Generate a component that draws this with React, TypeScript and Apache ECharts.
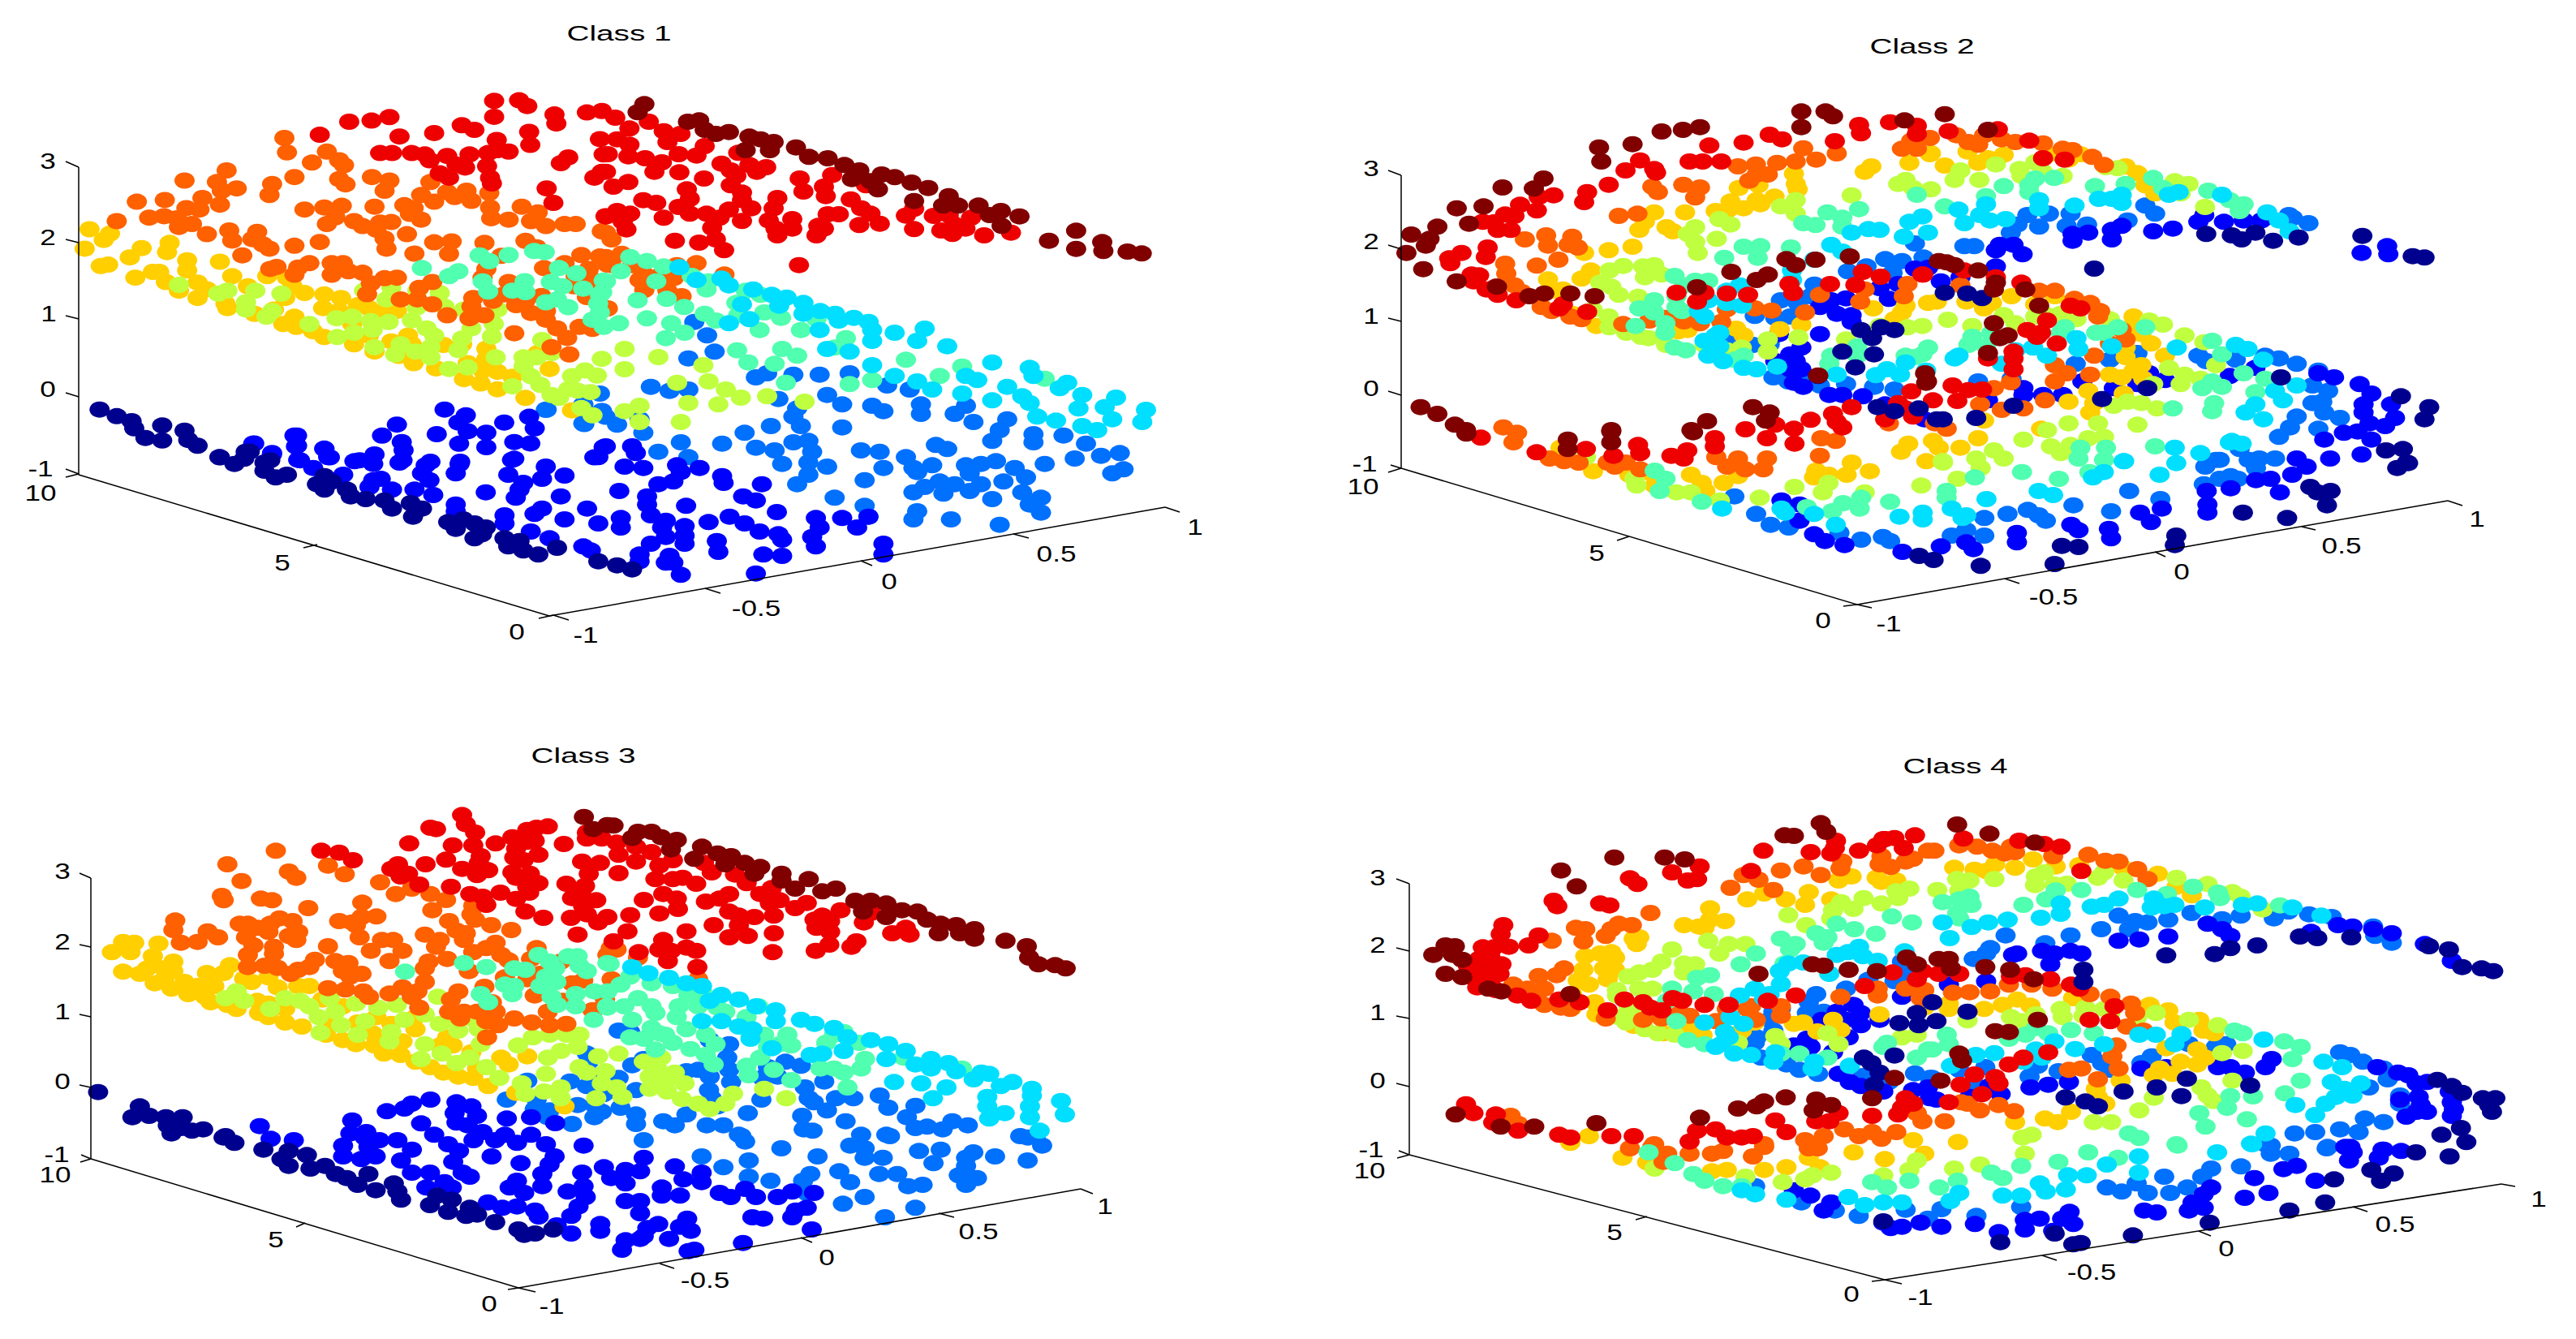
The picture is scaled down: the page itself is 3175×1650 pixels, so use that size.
import React, { useEffect, useRef } from "react";
import * as echarts from "echarts";

const W = 3175, H = 1650;
const colors: Record<string, string> = { navy: "#00008F", blue: "#0000FF", azure: "#0070FF", cyan: "#00DFFF", mint: "#50FFAF", lime: "#BFFF40", yellow: "#FFCF00", orange: "#FF6000", red: "#EF0000", maroon: "#800000" };
const order = ["azure", "blue", "yellow", "lime", "orange", "mint", "cyan", "red", "navy", "maroon"];
const regions = [
  { x: 30, y: 10, w: 720, h: 560, uw: 1568, uh: 1568 },
  { x: 740, y: 100, w: 720, h: 300, uw: 1568, uh: 900 },
  { x: 30, y: 400, w: 1450, h: 400, uw: 1568, uh: 1200 },
  { x: 1660, y: 30, w: 720, h: 500, uw: 1568, uh: 1500 },
  { x: 2300, y: 120, w: 760, h: 450, uw: 1568, uh: 1350 },
  { x: 1660, y: 450, w: 1400, h: 350, uw: 1568, uh: 1050 },
  { x: 30, y: 900, w: 720, h: 500, uw: 1568, uh: 1500 },
  { x: 650, y: 1000, w: 750, h: 400, uw: 1568, uh: 1200 },
  { x: 30, y: 1300, w: 1400, h: 340, uw: 1568, uh: 1020 },
  { x: 1660, y: 910, w: 720, h: 500, uw: 1568, uh: 1500 },
  { x: 2300, y: 1000, w: 800, h: 420, uw: 1568, uh: 1260 },
  { x: 1660, y: 1300, w: 1440, h: 340, uw: 1568, uh: 1020 },
];

const p1aRed = [1261,320,1328,318,1350,338,872,392,932,388,980,376,1423,367,1428,398,1510,360,1550,355,1261,375,1174,404,1208,420,1100,431,1007,443,793,437,1355,427,1268,455,1358,472,1545,452,1270,490,1300,495,1245,500,955,500,987,500,1040,500,1075,505,1088,525,1135,510,1195,505,1160,540,1183,550,1242,545,1115,570,1140,585,1250,585,1255,605,1460,515,1440,535,1555,505,1530,585,1550,565,1402,622,1420,672,1560,718];
const p1aOrange = [698,448,705,498,812,495,772,533,845,525,858,542,543,560,725,583,430,595,517,600,530,630,570,622,665,607,658,645,845,590,862,608,933,583,980,595,967,630,1090,600,1135,635,1187,630,1248,638,1155,652,1200,665,302,668,377,662,478,655,525,678,435,690,470,695,752,695,805,688,852,682,940,685,1065,645,1100,668,1020,680,1045,690,1250,688,1335,685,1378,705,335,723,375,718,410,725,450,745,415,755,248,735,835,722,812,745,885,735,908,752,955,740,985,738,945,765,1035,710,1065,730,1253,725,1300,730,1360,735,1400,752,1450,745,1480,745,1550,770,490,780,550,767,625,772,612,797,558,802,640,815,658,830,725,820,793,807,967,795,1027,780,972,830,1100,808,1147,805,1235,810,1345,803,1375,825,1047,847,1140,848,585,853,1280,855,1495,852,1545,857,677,893,660,900,765,880,735,895,725,920,825,880,855,880,825,920,870,908,908,913,1240,900,1395,897,1450,880,1515,900,1565,885,1230,930,1480,925,930,950,967,932,1000,930,1095,945,1060,965,1300,945,1475,960,1530,940,1510,997,920,987,1010,1005,1055,1005,1095,1022,1205,1000,1258,1010,1288,988,1345,1010,1388,993,1320,1025,1558,1035,1200,1030,1360,1052,1400,1045,1135,1060,1235,1060,1195,1070,1400,1075,1430,1105,1490,1100,1525,1107,1315,1122,1457,1138,1463,1195,1415,1170];
const p1aMint = [1222,853,1248,873,1300,852,1368,838,1397,842,1067,897,1165,908,1140,925,1435,897,1482,915,1230,943,1343,942,1413,945,1555,940,1245,978,1310,975,1345,980,1445,960,1500,968,1430,1005,1400,1015,1460,1032,1540,1020,1545,990,1545,1050,1525,1075,1555,1100];
const p1aLime = [415,955,520,985,545,975,620,975,595,1015,595,1040,690,985,665,1045,650,1065,912,975,985,965,1055,975,1115,983,972,1005,1128,1030,1180,1040,1053,1033,1270,1040,840,1135,838,1070,880,1065,930,1080,978,1083,1040,1077,765,1090,935,1110,885,1120,1080,1105,1100,1130,1200,1105,1260,1090,1255,1133,940,1170,995,1195,1010,1160,1090,1170,1090,1205,1050,1185,1165,1180,1175,1140,1190,1240,1140,1245,1265,1205,1390,1145,1415,1190,1340,1205,1375,1205,1340,1235,1360,1270,1385,1300,1310,1305,1415,1335,1435,1345,1460,1315,1485,1320,1520,1325,1470,1270,1505,1250,1537,1268,1550,1210,1495,1380,1525,1405];
const p1aYellow = [175,763,230,778,213,800,162,830,315,828,390,810,383,842,283,860,205,890,225,885,437,870,437,905,525,875,298,930,345,910,362,910,380,945,558,925,652,925,705,930,720,960,465,947,415,975,490,970,465,1000,600,960,752,983,540,1020,545,1035,618,1055,805,988,850,1000,802,1035,845,1045,895,1025,925,1035,1000,1045,960,1048,670,1040,700,1000,695,1090,725,1065,730,1100,775,1115,805,1135,880,1090,925,1130,885,1160,940,1185,1030,1130,985,1150,1005,1200,1040,1160,1045,1225,1105,1243,1125,1162,1175,1160,1190,1225,1240,1175,1240,1210,1230,1250,1270,1255,1180,1280,1225,1295,1270,1315,1310,1272,1345,1345,1410,1245,1378,1190,1470,1388];
const p1aAzure = [1402,1385,1500,1370,1545,1330,1550,1390,1503,1435,1560,1410];
const p1aBlue = [1128,1385,1185,1405,1165,1430,1190,1460,1288,1430,1355,1410,1370,1450,1240,1465,1000,1437,960,1475,1107,1470,1013,1497,1018,1525,732,1475,732,1510,617,1502,665,1535,805,1520,820,1550,1167,1503,1240,1515,1315,1497,1358,1502,940,1540,1555,1515,1530,1550,740,1560,1090,1565,1170,1565,1315,1555,900,1560,1015,1560];
const p1aNavy = [202,1385,248,1408,288,1425,295,1450,370,1440,430,1458,325,1483,370,1492,440,1490,465,1510,525,1550,605,1530,590,1555,660,1560];
const p1bMaroon = [118,85,100,115,235,150,265,145,280,180,310,195,345,188,400,205,430,215,465,225,390,255,455,255,525,245,560,280,610,285,655,310,695,330,675,362,755,345,790,355,725,370,745,400,835,375,880,395,935,425,920,460,960,460,1015,460,1045,495,1075,480,1125,500,842,443,1077,535,1277,553,1204,590,1277,620,1347,595,1350,628,1415,630,1453,637];
const p1bRed = [40,135,130,150,170,185,215,195,78,175,180,225,45,215,78,235,20,270,75,278,120,285,165,300,210,270,258,275,280,240,145,335,212,337,278,360,325,305,370,265,400,310,445,318,420,335,350,330,365,350,350,385,380,412,380,440,405,470,345,475,232,400,240,435,210,465,115,440,150,450,80,490,45,480,60,520,70,548,15,500,35,390,75,373,15,335,170,505,240,490,285,490,320,505,380,517,300,542,452,515,470,545,475,570,515,510,515,545,475,432,465,470,535,360,545,408,622,347,600,390,605,425,672,437,700,470,725,490,640,492,610,492,585,535,600,545,580,570,695,532,750,527,713,385,842,472,820,497,895,498,935,495,995,505,950,530,915,552,842,547,945,565,980,545,1030,570,1102,560,200,590,265,597,310,585,332,625,533,680];
const p1bOrange = [15,560,30,585,57,638,30,680,85,680,115,710,105,735,160,718,197,728,258,673,333,715,118,772,180,775,218,795,205,680,15,650,20,840];
const p1bMint = [80,650,125,665,170,685,55,703,15,740,150,740,100,810,178,805,225,835,5,780,280,860,125,877,190,895,50,895,310,885,245,720,285,770,390,775,430,790,365,820,370,865,440,855,485,875,290,740,580,880];
const p1bAzure = [252,890];
const p1bCyan = [212,688,258,735,325,730,345,755,380,825,410,770,460,790,500,800,480,830,545,820,590,850,630,860,680,875,720,890,545,860,400,880,345,895,640,885];
const p1cCyan = [1060,20,1130,20,1070,90,1130,60,1190,60,1230,80,1290,140,1130,150,1160,190,1190,210,1210,240,1250,255,1290,280,1255,190,1310,230,1345,190,1390,215,1410,260,1340,290,1350,340,1375,355,1405,310,1455,270,1495,315,1440,305,1450,350,1410,375,1430,390,1490,360,1200,15,1160,30,1340,160,1270,205,1380,235,1330,265,1100,100];
const p1cMint = [950,95,980,20,1010,90,1030,115,1095,50,1175,130,1220,190,1250,155,1130,205,1100,220,1015,215,855,50,965,140,1000,145,1360,200,880,30,1035,20,1080,85];
const p1cAzure = [910,40,885,125,920,100,835,230,860,245,885,240,1100,180,1060,185,1025,185,990,180,1150,225,1180,240,1030,310,1070,260,1090,295,1130,300,1145,320,1195,295,1195,330,1255,300,1240,330,1265,360,1310,350,1090,380,1035,375,1025,340,995,375,960,400,875,435,930,440,845,470,885,490,820,350,745,365,770,320,790,370,825,400,695,315,745,295,975,455,1025,435,1045,430,1000,465,1050,470,1115,465,1140,470,1010,515,1045,510,1070,525,1045,555,1030,590,1120,575,1145,530,1175,490,1185,530,1215,445,1230,460,1210,520,1190,545,1255,520,1275,515,1260,550,1295,505,1320,530,1360,515,1335,565,1305,580,1220,580,1240,590,1200,600,1185,620,1225,625,1275,590,1260,615,1290,645,1330,620,1355,640,1340,665,1355,695,1190,690,1185,720,1235,720,1300,740,1080,640,1120,670,1125,710,1300,390,1345,405,1290,430,1385,410,1415,440,1345,435,1400,495,1435,485,1460,475,1465,535,1450,550,975,195,1005,275];
const p1cLime = [870,215,912,210,935,240,955,270,990,265,925,295,885,290,820,300,800,320,875,360,820,360,1040,285,845,120,800,90,905,150,800,165];
const p1cBlue = [775,450,765,490,810,450,815,475,800,525,825,530,870,520,875,545,900,530,930,560,932,585,845,590,865,580,983,590,793,615,830,635,830,665,882,670,958,635,975,650,1003,693,940,710,960,735,980,765,1005,775,1010,795,1055,715,1060,750,1090,715,1110,750,1125,710,1050,785,1055,820,1145,810,1145,850,985,850,1010,855,923,800,925,840,880,745,855,725,850,750,835,705,912,730,795,715,795,750,765,735,835,810,855,785,880,780,880,810,860,855,865,880,855,880,820,850,820,875,875,925,975,920,745,820,755,835,720,720,715,635,750,680,690,680,680,700,640,705,640,735,675,765,700,790,655,640,660,610,690,570,720,558,645,555,665,585,615,620,575,665,575,690,545,630,520,610,530,550,540,575,575,550,465,575,475,570,460,600,490,610,580,515,535,520,500,510,465,515,400,460,405,490,440,505,365,500,385,530,425,555,650,500,695,525,305,440,330,480,360,410,362,450];
const p1cNavy = [260,490,295,470,280,515,320,510,320,540,350,555,335,565,400,560,410,580,390,590,430,610,400,610,435,635,455,645,480,650,490,680,515,660,530,680,518,710,565,730,585,720,600,735,575,755,610,775,600,790,640,790,660,800,645,820,665,835,685,850,710,825,765,875,790,890,810,905,615,750];

const p2aMaroon = [1220,322,1285,322,1305,340,1220,380,845,396,902,390,948,380,677,455,767,443,683,507,528,570,418,603,502,607,295,680,367,673,243,748,328,737,173,777,222,793,212,818,160,845,205,905,295,950,403,970,530,995,490,1005,600,995,665,1005,1180,868,1205,890,1258,870,1350,858,1032,915,1130,925,1100,945,940,972,1497,355,1265,1298,1090,1415,1135,1435,1125,1465,198,1415,243,1440,290,1480,967,1467,1555,1325,710,1500,925,1500,320,1500];
const p2aRed = [1375,372,1380,403,1458,362,1530,375,1530,405,1135,408,1168,425,973,448,1065,437,1310,432,787,503,748,540,825,535,830,548,920,507,955,507,1005,507,703,593,645,620,637,657,515,638,555,632,465,667,510,688,425,703,450,708,365,730,395,732,405,760,440,760,308,845,275,865,278,883,378,825,373,860,335,925,355,928,340,950,400,970,375,980,405,1000,455,1020,1188,960,1198,993,1297,960,1365,963,1433,933,1385,915,1545,925,960,992,940,1025,885,992,1020,995,1077,1000,580,1035,570,1050,645,1063,1515,1357,1355,1415,1305,1440,1315,1470,1245,1462,1445,1460,1480,1400,1500,1420,1520,1450,1150,1480,1200,1495,1070,1497,1330,1490];
const p2aOrange = [1050,525,1098,518,1155,512,1205,507,1225,458,1260,500,1315,477,1490,460,1530,460,1565,420,1515,430,1130,555,1100,555,1080,578,820,600,835,620,903,593,948,603,935,640,730,708,780,700,478,795,535,780,540,818,605,785,595,815,620,825,568,870,510,892,425,885,428,922,450,965,470,990,523,1045,550,1060,600,1080,630,1090,1390,980,1378,1025,1270,1000,1230,1065,1505,960,1495,1005,1095,1050,1140,1058,1020,1053,1005,1100,905,1098,948,1105,855,1085,812,1095,742,1108,1455,1475,420,1490];
const p2aYellow = [1408,525,1390,545,1510,512,1565,480,1105,595,1052,605,1200,552,1205,590,1210,610,1100,650,1110,665,1148,637,1030,655,1065,680,990,690,1025,685,825,695,908,695,800,730,785,760,858,750,875,765,703,835,767,822,637,845,655,910,630,940,540,943,580,980,550,985,1413,1050,1500,1040,1490,1065,1470,1090,1560,1030,1220,1110,1162,1127,1045,1125,1065,1150,605,1070,670,1115,855,1140,890,1135,915,1130];
const p2aLime = [1205,650,1205,700,1165,673,1355,632,1480,590,1500,575,1520,605,1030,740,1000,720,935,750,915,775,935,805,942,845,993,793,742,893,705,910,680,955,710,970,730,1000,825,890,795,895,845,925,800,935,782,1007,703,1080,705,1120,660,1055,750,1140,790,1155,810,1160,857,1185,960,1185,980,1190,1020,1205,1060,1195,1130,1165,1130,1210,1212,1157,1340,1165,1367,1195,1505,1120,1545,1115,1430,1115];
const p2aMint = [1225,735,1258,742,1290,695,1330,715,1330,748,1375,683,1530,630,1065,822,1110,820,1192,825,1103,863,1013,863,880,930,905,965,935,948,970,948,825,1020,885,1005,785,1050,825,1065,885,1045,900,1060,855,1105,855,1140,775,1115,910,1205,880,1195,1065,1225,1040,1240,1370,1190,1370,1225,1300,1225,1295,1255,1500,1225,1545,1220,1560,1195,1525,1230];
const p2aCyan = [1510,730,1545,710,1560,770,1400,757,1430,760,1355,770,1495,785,1300,815,1330,840,1195,910,1195,945,1255,870,1055,965,1020,985,1020,1030,970,1020,1060,1040,945,1060,960,1080,960,1170,990,1150,1000,1140,1010,1245,970,1225,1065,1270,1100,1275,1155,1265,1315,1295,1420,1297,1450,1275,1485,1295,1555,1280,1500,1250,1000,1190];
const p2aAzure = [1525,810,1345,913,1395,895,1445,868,1490,875,1548,862,1465,918,1255,962,1245,1005,1165,1020,1210,1030,1095,1078,1150,1085,1190,1080,1040,1155,1090,1185,1135,1183,1145,1305,1185,1320,1270,1335,1240,1320,1340,1330,1415,1340,1470,1350];
const p2aBlue = [1525,903,1430,975,1455,1015,1480,960,1560,900,1340,1013,1300,1020,1270,1045,1315,1070,1355,1075,1355,1100,1270,1145,1160,1145,1220,1195,1190,1220,1205,1245,1150,1245,1190,1275,1220,1275,1200,1325,1225,1340,1295,1370,1330,1370,1385,1375,1445,1405,1550,1460];
const p2aNavy = [1380,1130,1410,1160,1435,1120,1470,1130,1415,1220,1330,1210,1365,1268,1265,1300,1425,1415,1470,1430,1535,1420];
const p2bMaroon = [200,62,310,120,205,610,185,605,225,620,285,640,330,685,325,710,405,710,440,770,325,835,360,880,340,890,310,945,155,1050,150,1020];
const p2bRed = [210,125,335,118,415,160,450,225,505,230,250,640,145,655,330,665,395,685,520,770,545,780,460,825,410,860,445,870,435,885,485,910,375,940,375,965,310,965,375,1005,220,1065,260,1082,295,1080,232,1122,170,1120];
const p2bOrange = [230,140,260,165,300,140,285,175,345,155,380,165,450,170,500,190,525,195,575,220,605,250,440,715,480,715,530,745,570,760,595,790,590,810,650,860,660,895,620,910,580,955,480,990,510,1020,480,1050,570,1025,368,1053,325,1075,290,1135,345,1155,400,1150,205,1225,175,1205,455,1120,240,695];
const p2bYellow = [165,207,258,200,350,212,310,225,285,242,200,252,465,210,515,230,545,210,660,255,690,280,710,325,735,355,180,755,255,755,370,735,320,760,300,780,480,735,430,765,680,810,680,840,700,875,660,925,660,960,725,910,760,955,700,990,680,1010,620,1025,650,1035,705,1040,655,1095,565,1085,515,1125,580,1130,570,1165,445,1225,285,1260,170,1270,185,1295,240,1295,300,1195];
const p2bLime = [330,248,225,305,240,270,288,305,165,340,390,265,395,290,430,240,450,275,500,290,610,258,640,262,800,355,785,310,820,320,862,405,208,822,350,805,380,835,270,845,430,810,460,805,495,800,535,820,620,820,720,825,755,840,810,880,860,905,890,990,770,1000,800,1060,810,1025,850,1040,730,1060,630,1140,665,1125,700,1130,740,1150,590,1205,515,1205,690,1210,460,1230,565,1260,605,1255,470,1290,495,1315,520,1285,400,1265,325,1305,280,1335,350,1335,195,1345];
const p2bMint = [415,350,430,300,415,325,350,328,478,298,305,365,582,328,660,320,730,298,755,335,870,345,925,380,960,395,950,420,200,403,505,850,585,870,605,870,495,870,270,885,260,915,318,872,305,920,880,900,905,950,880,1050,905,1070,855,1075,1015,1040,960,1020,990,1090,885,1130,880,1160,780,1150,735,1290,610,1295,545,1295,540,1335,605,1340,640,850,710,850];
const p2bCyan = [235,415,305,395,290,435,355,450,315,455,250,465,440,380,440,410,530,400,592,375,650,360,625,375,650,390,770,360,795,350,905,360,1020,425,1050,455,1077,495,380,935,425,925,460,955,535,890,540,930,625,920,235,955,225,965,345,985,790,925,1040,1085,1060,1120,990,1135,965,1165,1010,1190,930,1270,955,1280,785,1295,850,1315,655,1345,925,1275,1095,1065,940,915,970,930,1010,970];
const p2bAzure = [710,400,735,430,665,455,410,435,465,430,385,470,368,500,440,478,520,430,510,475,562,470,275,550,250,550,1085,445,1125,465,1075,435,285,1050,533,985,620,970,690,945,845,955,865,975,940,970,1015,955,1050,965,1095,985,1150,1010,1135,1065,1175,1085,1160,1125,1135,1130,1165,1165,1205,1185,1095,1180,1078,1220,1150,1225,1050,1255,950,1300,890,1340,1000,1335,1040,1335,370,1040];
const p2bBlue = [960,455,1005,455,860,435,845,460,910,460,780,485,730,495,650,475,625,490,625,525,565,500,525,505,525,530,340,545,375,545,330,565,398,580,1325,550,1328,580,1260,575,330,625,190,680,240,665,550,1050,400,1075,400,1100,450,1100,500,1100,310,1120,720,1020,760,1045,990,1000,925,1030,1150,1020,1190,1035,1255,1060,1285,1095,1265,1135,1265,1165,1335,1135,1345,1185,1280,1205,1320,1215,1250,1235,1215,1240,1285,1265,1165,1265,1260,1320,1095,1335,1180,1335,630,1075,690,1060];
const p2bNavy = [580,633,865,505,930,510,955,525,990,500,1035,530,1100,518,1262,512,1390,587,1420,592,200,722,257,725,295,742,375,1140,600,1115,715,1075,1055,1035,1360,1105,1432,1145,1420,1190,1322,1305,1365,1300,1375,1350,280,1185,180,1190,195,1190];
const p2cMaroon = [165,253,365,245,365,285,305,275,305,310,478,248];
const p2cRed = [185,268,262,322,330,310,368,335,402,295,405,325,470,315,465,345,448,335,618,290,580,270,508,270,508,300];
const p2cOrange = [230,285,280,345,300,355,360,360,385,360,370,375,405,385,510,340,540,345,525,375,550,385,580,345,575,385,655,270,675,280,653,335,235,250,320,360];
const p2cYellow = [295,305,320,360,340,392,775,290,765,320,697,360,722,392,690,405,665,405,648,390,645,415,540,410,475,405,490,435,520,435,390,405,420,400,425,445,495,465,800,355];
const p2cLime = [330,340,397,420,400,445,455,470,475,470,515,500,570,490,618,450,657,470,665,435,715,470,793,445,843,420,875,380,823,360];
const p2cMint = [425,390,440,420,432,465,490,505,635,525,670,540,685,510,710,490,708,530,750,505,828,465,828,490,867,415,932,395,983,420,1025,395];
const p2cCyan = [518,530,605,545,645,550,675,590,763,560,795,545,795,570,835,530,855,555,850,565,883,495,955,465,975,480,1073,355,1045,395,1030,415,1122,405,1145,362,600,530];
const p2cAzure = [535,485,565,550,585,590,610,600,680,620,710,645,740,635,750,650,835,630,855,610,880,565,880,630,912,550,940,535,955,555,965,575,1003,518,1055,540,1123,495,1080,465,1183,440,1205,420,1185,375,1205,350,1245,350,1255,380,1220,410,1230,420];
const p2cBlue = [600,500,625,515,625,575,645,625,660,650,687,665,767,690,820,670,855,655,865,680,925,620,925,655,1000,590,1010,610,1052,605,1055,640,1095,545,1125,530,1110,580,1188,515,1188,545,1187,465,1220,455,1255,425,1275,420,1288,470,1305,405,1325,375];
const p2cNavy = [790,705,810,720,875,742,977,735,987,668,1010,672,1145,630,1143,665,1237,545,1298,565,1330,450,1340,470,1358,465,1353,518,1465,362,1450,380];

const p3aMaroon = [1502,320,1527,365,1565,350];
const p3aRed = [1175,313,1185,347,1090,360,1105,365,1210,378,1205,425,1405,355,1375,360,1350,368,1310,395,1370,408,1350,412,1448,420,1265,418,1150,425,1033,418,1510,378,1550,400,1510,400,797,445,845,452,882,480,1225,465,1220,490,1132,478,1077,495,1003,495,985,512,1030,530,1010,540,1175,512,1245,517,1215,535,1320,437,1380,460,1315,470,1340,480,1310,525,1357,530,1320,545,1497,485,1545,490,1515,530,1060,570,1145,578,1380,565,1350,580,1355,600,1455,567,1505,575,1495,605,1470,620,1535,628,1500,650,1510,680,1197,605,1230,615,1240,645,1278,600,1320,623,1345,670,1393,693,1467,693,1540,710,1485,755,1565,690];
const p3aOrange = [675,445,545,495,815,500,860,532,710,522,730,545,955,562,583,557,1040,585,997,605,1090,605,1132,627,530,612,535,628,635,622,665,628,907,637,762,657,1095,665,1205,648,1200,680,1210,700,1253,720,1307,738,405,703,400,738,492,743,520,765,420,785,465,782,578,715,600,715,625,730,685,695,720,705,660,715,655,745,735,745,710,760,730,775,845,705,880,710,890,720,905,690,945,688,595,765,615,795,670,800,900,765,815,798,960,775,990,775,1140,705,1160,740,1185,750,1180,775,1075,755,1115,775,1105,800,1015,815,930,815,1265,785,1240,805,1205,820,1280,830,600,830,670,825,1300,850,1375,805,1360,845,1440,855,1565,830,980,853,1135,845,1085,855,1075,880,600,875,645,870,680,878,735,885,765,875,780,848,835,853,870,860,855,890,875,910,905,900,715,900,1193,890,1385,900,1075,930,1290,913,1350,920,1235,948,1470,935,1500,925,815,953,862,958,910,965,925,985,980,973,1015,950,1055,965,1040,985,1165,965,1145,995,1370,980,1445,1000,1060,1025,1255,1005,1140,1040,1180,1040,1215,1040,1265,1040,1405,1040,1525,1035,1315,1065,1362,1080,1410,1090,1455,1085,1240,1075,1272,1090,1242,1135,1170,1065];
const p3aMint = [1180,860,1240,875,1022,892,1315,880,1345,885,1380,830,1410,855,1460,835,1485,835,1490,870,1425,880,1510,890,1565,860,1400,910,1428,930,1290,940,1315,945,1385,945,1225,975,1310,975,1415,985,1480,975,1530,965,1565,965,1430,1015,1480,1020,1245,1005,1565,1025,1528,1070];
const p3aLime = [540,990,590,1000,570,965,700,990,740,1000,820,990,890,1010,765,1020,950,1025,1000,1015,835,1040,660,1030,790,1060,1075,1050,1020,1070,850,1090,915,1075,1110,985,1115,1085,1145,1070,1205,1068,1220,1105,1165,1110,795,1118,895,1125,985,1115,980,1150,1075,1160,1120,1195,1065,1215,1160,1230,1195,1210,1240,1245,1225,1160,1325,1165,1365,1135,1410,1125,1455,1125,1490,1125,1485,1170,1440,1185,1405,1210,1540,1205,1490,1245,1400,1270,1275,1285,1335,1305,1345,1345,1395,1335,1440,1320,1440,1360,1535,1360,1550,1305,1510,1265,1560,1260];
const p3aYellow = [265,782,295,785,235,820,360,788,285,820,345,835,400,855,265,892,310,900,330,880,375,880,400,890,350,935,395,955,375,920,490,897,535,897,552,868,590,918,610,930,655,913,430,930,465,945,510,945,440,975,485,985,570,965,500,1005,570,1030,545,1015,625,1000,655,1010,680,950,735,945,765,945,630,1045,655,1060,700,1030,700,1080,745,1095,800,995,855,1020,825,1075,810,1125,895,1080,945,1060,985,1085,1050,1060,1050,1105,855,1145,890,1160,935,1120,940,1165,965,1195,1010,1200,1015,1150,1050,1225,1090,1245,1125,1265,1115,1165,1150,1165,1135,1135,1200,1190,1215,1250,1165,1280,1205,1285,1245,1315,1280,1210,1300,1235,1320,1340,1350,1205,1450,1390];
const p3aAzure = [1510,1195,1515,1225,1295,1365,1350,1295,1375,1365,1370,1400,1410,1405,1465,1298,1510,1315,1545,1277,1485,1385,1530,1385,1550,1410,1530,1430,1470,1455,1405,1430,1555,1345];
const p3aBlue = [1090,1365,1040,1380,1020,1398,973,1408,880,1442,1160,1375,1200,1390,1155,1415,1215,1425,1160,1450,1190,1460,1065,1453,1295,1435,1360,1430,1425,1452,632,1463,875,1490,918,1485,1230,1485,1290,1495,1360,1495,1100,1495];
const p3aNavy = [198,1337,310,1390,290,1430,335,1425,380,1430,425,1430,385,1460,420,1470,480,1475,450,1480,540,1500,395,1490];
const p3bMaroon = [222,52,285,75,320,75,270,98,345,95,385,105,370,140,450,130,430,175,490,155,525,165,560,190,510,195,600,205,585,230,655,230,655,255,725,250,690,285,760,295,795,285,845,330,885,330,925,340,865,370,925,390,965,365,1005,370,1030,400,1065,415,1105,420,1060,450,1115,450,1152,435,1152,470,1232,478,1287,498,1293,540,1317,565,1360,568,1387,580];
const p3bRed = [230,115,280,130,320,150,235,160,280,185,235,228,340,200,375,180,330,250,375,250,400,245,435,267,455,190,475,225,535,233,565,265,630,283,600,305,650,328,625,340,520,305,495,322,460,333,350,305,385,322,300,327,340,377,388,360,265,383,690,357,720,338,807,365,885,375,867,410,520,370,545,385,585,390,635,385,545,420,760,385,740,400,780,405,745,430,780,445,940,450,975,430,985,455,480,420,410,443,258,443,520,465,568,460,635,450,350,475,340,510,370,515,410,503,435,515,287,520,362,553,438,575,632,520,743,515,778,492,848,480,835,500,222,480];
const p3bOrange = [215,505,230,510,285,540,217,620,440,620,200,695,170,735];
const p3bMint = [212,563,265,610,240,640,205,720,250,720,285,690,320,720,270,770,330,745,390,720,385,760,320,800,340,820,410,805,265,835,300,840,355,825,375,855,420,878,330,880,460,825,485,860,320,635,375,645,415,680,450,665,440,720,490,725,510,740,565,760,595,720,575,830,610,825,670,825,650,860,620,870,680,865,770,855,855,855,790,825,815,815,460,900,480,935,600,910,565,940,570,975,635,955,680,993,755,950,790,950,815,965,860,950,870,915,825,1020,970,910,1120,950];
const p3bLime = [345,910,300,925,235,895,335,950,315,980,315,1025,355,1000,360,1035,405,1005,380,965,230,1020,245,1055,398,1063,440,1080,470,1100,530,1043,610,1025,667,1060,510,1080];
const p3bCyan = [270,575,312,598,365,615,410,635,450,645,500,678,470,700,545,695,590,720,640,735,450,775,500,775,545,795,580,805,640,775,705,770,740,785,790,800,825,835,885,845,930,860,975,885,925,915,1000,935,1040,915,1085,930,1040,950,1105,960,1170,965,1190,970,1150,990,1250,1000,1220,1015,1300,1025,1300,1050,760,895,730,900,815,885,945,1000,1015,1005,1080,1020,1045,1060,1185,1055,1185,1090,1230,1115,1190,1135,1295,1090,1295,1130,1375,1070,1385,1120,1320,1180,630,875,575,840];
const p3bAzure = [235,810,265,815,520,860,470,845,515,910,300,915,270,938,440,955,410,960,470,980,520,955,525,1000,468,1030,475,1060,490,1090,605,985,620,945,645,980,665,925,705,940,765,998,715,1020,725,1060,738,1075,795,1060,840,1060,908,1050,772,1105,930,1095,1000,1088,568,1115,603,1065,410,1120,280,1030,280,1120,280,1155,235,985,240,1095,350,1145,380,1160,462,1160,505,1160,708,1125,820,1145,712,1175,735,1180,978,1130,1000,1170,1030,1165,1070,1175,1095,1145,1135,1160,545,1195,860,1195,925,1195,1270,1200,1310,1200];
const p3cAzure = [855,315,990,300,995,320,1045,345,935,375,1000,390,965,415,1095,375,1140,335,1160,345,1160,380,1185,380,1195,300,1235,355,1265,350,1310,360,1340,375,1300,380,1255,400,1300,410,1385,390,1405,335,1385,305,1000,450,1030,465,1085,440,1125,430,1140,470,1180,440,1205,440,1220,485,1240,480,1290,445,1315,455,1300,480,1080,510,1130,550,1160,525,1230,565,1188,600,1075,465];
const p3cBlue = [340,310,372,315,515,315,490,315,470,305,440,335,475,340,535,350,585,330,600,355,620,315,650,315,680,325,720,330,772,335,645,375,685,400,732,375,725,405,592,395,520,390,485,375,465,385,440,375,855,380,800,415,830,425,850,430,898,412,935,435,910,460,935,470,830,475,810,455,770,435,715,440,680,465,670,490,715,485,690,510,605,435,580,470,615,450,560,435,535,435,555,490,590,490,772,485,750,505,775,525,880,490,880,520,905,520,995,495,960,510,975,525,1010,525,1040,525,1060,505,1090,510,830,540,850,540,850,585,765,560,755,595,735,630,640,545,660,565,680,560,705,575,710,597,1005,600,1020,605,1065,575,1080,565,1060,600,1087,645,915,605,905,635,920,650,875,625,860,640,855,670,890,680,830,685,850,680,825,720,795,625,795,650,755,660,925,720,917,725,992,695];
const p3cNavy = [275,305,290,325,330,350,365,355,355,385,365,410,395,420,415,410,390,370,430,440,445,455,475,440,460,480,485,500,510,475,520,535,515,505,570,520,560,555,590,535,585,580,610,595,625,590,615,565,650,618,682,645,690,665,705,660,730,645];

const p4aMaroon = [1272,313,1287,345,1175,358,1200,360,718,440,853,440,907,447,575,488,617,547,265,765,290,768,232,800,285,800,310,818,265,870,310,882,415,935,380,925,1105,870,1280,840,1250,835,1347,855,1423,860,1503,810,1530,835,600,945,1470,1255,1410,1330,1178,1327,1120,1342,1100,1360,1050,1368,1260,1335,1300,1355,1253,1375,948,1402,670,1422,292,1390,413,1435,503,1435];
const p4aRed = [1085,490,1118,415,1245,420,1375,415,1313,378,1310,405,1300,425,1423,395,1470,368,1440,372,1525,358,1495,405,1445,372,947,473,873,495,760,517,780,538,915,525,940,520,555,600,565,620,680,610,705,617,420,690,413,723,515,728,488,765,435,770,365,772,395,772,385,805,355,815,325,840,345,855,415,835,385,860,410,870,345,890,385,900,350,920,400,930,458,950,1205,950,1465,865,1545,860,1530,890,1390,915,570,965,625,975,745,965,795,975,875,960,900,970,815,995,845,1005,960,985,1025,985,700,1005,495,970,1130,970,1500,1330,1490,1365,1320,1385,1410,1395,1480,1390,1150,1412,1260,1415,1295,1415,1520,1350,400,1390,320,1352,340,1385,393,1420,460,1450,570,1465,600,1475,710,1470,770,1470,940,1450,990,1445,1020,1475,1060,1475,1090,1470,1180,1455,920,1490];
const p4aOrange = [1435,435,1430,465,1500,455,1460,475,1520,445,1560,415,1330,455,1325,480,1226,473,1165,488,1272,505,1065,505,1105,522,1030,552,1145,560,815,645,730,685,765,690,615,700,640,705,710,705,635,750,695,730,550,748,515,878,563,875,583,850,447,910,485,925,530,925,480,950,510,965,530,985,575,995,600,1000,1425,925,1425,950,1500,925,1540,960,1550,930,1325,955,1165,990,1165,1025,1020,1000,1085,990,1075,1000,1098,1040,990,1045,920,1025,895,1015,845,1035,795,1040,695,1035,1230,1485,1280,1470,1335,1445,1375,1470,1410,1455,1435,1480,1475,1455,1530,1385,1545,1415,440,1395,460,1425,1120,1500,825,1500];
const p4aYellow = [1320,525,1355,510,1422,515,1435,530,1475,525,1240,568,1230,615,1300,595,1178,595,1120,573,1075,595,975,628,905,690,945,695,960,700,975,670,1015,675,770,740,785,735,778,760,640,805,680,795,710,790,720,810,635,855,690,850,720,855,700,890,620,895,650,910,605,945,665,975,605,995,670,1020,1225,1050,1200,1055,1305,1040,1263,1083,1325,1078,770,1062,850,1090,920,1062,955,1097,1060,1080,1050,1095,1095,1050,1430,1020,1550,995,1520,1485,650,1470,600,1495];
const p4aLime = [1327,605,1360,630,1305,635,1300,665,1185,653,1233,690,1387,590,1435,610,1475,565,1510,555,1480,590,970,748,1025,760,1070,760,1000,795,873,780,845,825,820,855,785,865,755,880,905,832,935,835,905,865,725,930,725,950,785,925,820,925,755,985,730,1030,770,1015,750,1050,800,1075,835,1090,880,1095,1165,1130,1290,1090,1490,1105,1530,1095,1320,1130,1050,1125,1150,1100];
const p4aMint = [1165,740,1205,760,1190,780,1260,720,1290,735,1280,755,1315,685,1362,705,1420,722,1463,658,1517,680,1098,795,1057,835,1175,832,940,885,975,875,873,925,930,935,985,945,860,970,885,1045,915,1115,960,1130,1450,1125,1440,1140,1530,1180,1560,1150,1290,1180,1215,1165,1165,1165];
const p4aCyan = [1185,832,1225,828,1162,860,1295,870,1315,800,1345,790,1375,770,1385,805,1425,822,1497,787,1165,908,1095,925,1055,950,1135,945,1120,960,1030,1030,960,1050,1065,1055,1015,1085,1005,1130,990,1140,1040,1165,1085,1170,1145,1195,1255,1195,1350,1210,1250,1220,1025,1105,1150,1160];
const p4aAzure = [1400,892,1470,897,1490,825,1340,925,1260,945,1240,975,1235,1015,1280,1010,1145,1010,1135,1040,1145,1080,1100,1105,1095,1125,1112,1180,1180,1205,1215,1225,1265,1240,1385,1248,1455,1270,1525,1238,1565,1255,1510,875,1165,1000];
const p4aBlue = [1490,955,1360,985,1380,1015,1340,1040,1430,1040,1380,1060,1315,1010,1275,1040,1235,1110,1245,1140,1200,1135,1305,1160,1347,1105,1320,1240,1350,1270,1380,1285,1440,1305,1520,1300,1565,1330,1560,1290];
const p4aNavy = [1530,1015,1535,1060,1483,1052,1470,1172,1388,1180,1408,1200,1430,1235,1415,1280];
const p4bMaroon = [220,48,298,82,408,115,175,545,200,545,205,580,288,575,348,585,405,620,180,995,312,812,345,815,225,895,232,920,415,770];
const p4bRed = [235,100,370,108,430,120,470,130,520,220,175,600,225,600,385,605,350,610,445,620,495,640,515,655,600,720,540,770,590,775,440,890,380,910,345,935,262,972,312,982,228,1010,280,1045,200,1075,320,1005];
const p4bOrange = [165,145,225,125,268,130,305,145,335,155,360,150,350,130,452,165,537,160,578,182,610,185,655,213,680,250,345,640,300,665,250,668,210,670,450,655,400,640,540,675,590,685,640,710,650,745,630,795,670,810,605,865,595,905,610,950,560,990,520,950,490,955,358,1108,320,1085,275,1105,245,1080,190,1145,230,1075];
const p4bYellow = [403,177,213,208,262,215,290,220,312,195,360,208,458,203,515,198,620,208,705,230,750,278,787,310,200,710,200,730,285,730,330,715,365,695,397,718,500,690,685,715,730,735,745,780,805,770,815,810,840,820,725,875,800,880,820,910,760,925,800,935,710,950,695,975,740,970,615,995,555,1025,560,1055,578,1080,495,1110,432,1135,463,1148,360,1148,222,1222];
const p4bLime = [310,250,220,250,250,255,172,290,225,293,430,225,410,240,408,272,455,270,485,267,575,225,560,245,622,255,750,245,825,268,885,298,905,315,958,362,530,725,575,730,590,745,470,730,475,760,525,755,350,760,410,750,380,775,245,772,700,745,780,770,850,790,860,893,910,885,885,995,810,1020,825,1050,838,1070,695,1058,660,1105,550,1148,592,1148,378,1205,400,1195,655,760];
const p4bMint = [255,345,185,335,225,325,250,315,220,375,225,395,380,345,435,325,458,292,520,290,655,290,727,305,790,278,850,300,855,320,1000,347,410,800,440,820,495,808,345,840,385,825,550,820,890,810,910,820,1010,850,1050,870,1030,915,1050,995,1012,1042,880,1052,935,1053,872,1095,805,1115,920,1138,820,1165,635,1190,660,1207,750,1230,195,825,200,860,160,880];
const p4bCyan = [185,410,255,427,295,410,342,400,422,393,470,340,470,378,202,468,545,352,610,322,575,345,695,322,690,355,720,350,745,345,818,355,910,345,945,340,1030,355,1100,385,455,850,410,880,505,878,425,910,310,893,380,925,265,900,205,940,660,825,700,825,745,860,762,823,575,860,960,843,1105,925,1150,945,1125,1000,1195,1005,1155,1025,1175,1050,1135,1055,1110,1080,1037,1085,1085,1122,965,1190,930,1228];
const p4bAzure = [337,458,494,458,568,435,610,385,635,435,650,405,680,410,730,400,786,375,860,398,905,385,985,395,1020,370,1070,380,1125,390,1225,425,1230,460,1270,485,433,487,300,505,290,525,260,545,225,955,288,945,415,940,395,980,465,960,160,985,260,1005,545,900,570,930,590,955,690,905,665,930,780,860,870,860,845,870,1145,890,1170,900,1200,925,1250,950,1260,990,1215,1020,1290,1050,1290,1080,1035,1190,1085,1185,1145,1175,1205,1135,1250,1148,965,1230,1115,1240,1190,1185];
const p4bBlue = [355,530,365,525,425,515,455,525,493,515,520,525,445,565,1140,420,1175,425,1225,435,1270,450,825,415,860,435,880,460,610,478,660,473,730,462,1075,445,1350,490,1415,552,290,628,200,640,980,915,965,945,850,945,880,945,915,965,665,950,725,945,490,1000,440,1010,397,1020,298,1015,325,1045,250,1055,1235,945,1285,965,1310,975,1330,1005,1355,1000,1290,1065,1335,1055,1340,1085,1330,1110,1305,1128,1355,1110,1410,1035,1415,1075,1420,1100,1415,1125,1170,1240,1250,1250,170,1065];
const p4bNavy = [725,532,842,527,880,505,945,495,1048,462,1090,468,1172,465,1360,498,1408,510,1440,575,1487,580,1515,590,525,585,525,630,245,740,160,705,170,775,702,1020,775,988,928,1013,622,1035,762,1052,482,1057,530,1072,560,1090,1380,992,1415,1015,1440,1040,1490,1060,1520,1060,1505,1085,1512,1110,1437,1170,1390,1195,1450,1222];
const p4cOrange = [380,345,410,340,430,365,425,395,460,365,490,365,505,355,560,340,545,375,620,345,632,345];
const p4cYellow = [370,380,403,397,490,430,510,425,560,425,590,415,635,415,680,360,620,380,722,385,775,365];
const p4cLime = [413,420,535,450,585,470,615,460,650,435,720,445,755,425,765,390,815,420,850,405,910,365,625,445];
const p4cMint = [405,360,440,400,465,440,480,465,505,485,530,485,705,470,725,490,755,465,795,490,820,465,865,435,880,455,905,410,955,395,995,360,1035,380,1115,335];
const p4cCyan = [530,500,548,515,590,535,673,525,695,555,720,545,745,545,810,540,822,510,880,520,905,520,930,475,938,505,965,497,968,445,993,445,1020,405,1063,375,1063,435,1168,360,1215,330];
const p4cAzure = [548,485,610,545,655,575,687,595,750,572,780,605,798,570,845,595,905,562,1020,490,1040,505,1075,510,1105,510,1128,490,1060,475,1097,450,1148,450,1160,420,1200,412,1240,365,1240,335,1265,365,1315,345];
const p4cBlue = [600,500,622,520,640,575,650,545,720,620,730,640,745,635,770,620,798,635,843,625,910,610,930,605,875,655,910,645,948,650,970,580,975,625,960,605,1070,575,1087,582,1130,575,1150,565,1135,545,1150,515,1160,490,1205,528,1237,510,1218,455,1257,422,1275,410,1300,465,1345,390,1340,340,1385,380,1390,350,1415,355,1350,360];
const p4cNavy = [720,615,877,692,950,660,975,700,985,695,1055,667,1158,620,1265,575,1313,545,1325,460,1388,465,1375,425,1405,438,1435,360,1480,375];

const regionData: Record<string, number[]>[] = [
  { red: p1aRed, orange: p1aOrange, mint: p1aMint, lime: p1aLime, yellow: p1aYellow, azure: p1aAzure, blue: p1aBlue, navy: p1aNavy },
  { maroon: p1bMaroon, red: p1bRed, orange: p1bOrange, mint: p1bMint, azure: p1bAzure, cyan: p1bCyan },
  { cyan: p1cCyan, mint: p1cMint, azure: p1cAzure, lime: p1cLime, blue: p1cBlue, navy: p1cNavy },
  { maroon: p2aMaroon, red: p2aRed, orange: p2aOrange, yellow: p2aYellow, lime: p2aLime, mint: p2aMint, cyan: p2aCyan, azure: p2aAzure, blue: p2aBlue, navy: p2aNavy },
  { maroon: p2bMaroon, red: p2bRed, orange: p2bOrange, yellow: p2bYellow, lime: p2bLime, mint: p2bMint, cyan: p2bCyan, azure: p2bAzure, blue: p2bBlue, navy: p2bNavy },
  { maroon: p2cMaroon, red: p2cRed, orange: p2cOrange, yellow: p2cYellow, lime: p2cLime, mint: p2cMint, cyan: p2cCyan, azure: p2cAzure, blue: p2cBlue, navy: p2cNavy },
  { maroon: p3aMaroon, red: p3aRed, orange: p3aOrange, mint: p3aMint, lime: p3aLime, yellow: p3aYellow, azure: p3aAzure, blue: p3aBlue, navy: p3aNavy },
  { maroon: p3bMaroon, red: p3bRed, orange: p3bOrange, mint: p3bMint, lime: p3bLime, cyan: p3bCyan, azure: p3bAzure },
  { azure: p3cAzure, blue: p3cBlue, navy: p3cNavy },
  { maroon: p4aMaroon, red: p4aRed, orange: p4aOrange, yellow: p4aYellow, lime: p4aLime, mint: p4aMint, cyan: p4aCyan, azure: p4aAzure, blue: p4aBlue, navy: p4aNavy },
  { maroon: p4bMaroon, red: p4bRed, orange: p4bOrange, yellow: p4bYellow, lime: p4bLime, mint: p4bMint, cyan: p4bCyan, azure: p4bAzure, blue: p4bBlue, navy: p4bNavy },
  { orange: p4cOrange, yellow: p4cYellow, lime: p4cLime, mint: p4cMint, cyan: p4cCyan, azure: p4cAzure, blue: p4cBlue, navy: p4cNavy },
];

const axisLines = [
  [[97, 206], [97, 585], [677, 759], [1436, 625]],
  [[81, 199], [97, 206]], [[81, 295], [97, 299]], [[81, 389], [97, 393]], [[81, 484], [97, 489]], [[81, 578], [97, 584]],
  [[81, 588], [97, 584]], [[374, 675], [391, 671]], [[664, 762], [682, 758]],
  [[682, 758], [701, 764]], [[869, 725], [888, 731]], [[1061, 691], [1075, 697]], [[1249, 658], [1268, 663]], [[1436, 625], [1454, 631]],
  [[1727, 216], [1727, 577], [2289, 745], [3017, 617]],
  [[1711, 210], [1727, 216]], [[1711, 302], [1727, 307]], [[1711, 392], [1727, 396]], [[1711, 482], [1727, 487]], [[1714, 573], [1727, 577]],
  [[1711, 582], [1727, 577]], [[1993, 666], [2008, 661]], [[2272, 747], [2289, 745]],
  [[2289, 745], [2307, 749]], [[2471, 713], [2489, 719]], [[2656, 680], [2669, 686]], [[2837, 649], [2854, 653]], [[3017, 617], [3035, 623]],
  [[112, 1082], [112, 1428], [639, 1587], [1332, 1465]],
  [[98, 1076], [112, 1082]], [[98, 1164], [112, 1167]], [[98, 1250], [112, 1253]], [[98, 1337], [112, 1340]], [[100, 1423], [112, 1428]],
  [[99, 1432], [112, 1428]], [[365, 1512], [376, 1507]], [[626, 1589], [639, 1587]],
  [[639, 1587], [660, 1592]], [[813, 1557], [831, 1563]], [[987, 1525], [1001, 1531]], [[1157, 1495], [1176, 1500]], [[1332, 1465], [1347, 1471]],
  [[1737, 1089], [1737, 1423], [2323, 1577], [3083, 1459]],
  [[1721, 1083], [1737, 1089]], [[1721, 1168], [1737, 1172]], [[1721, 1252], [1737, 1255]], [[1721, 1335], [1737, 1339]], [[1724, 1418], [1737, 1423]],
  [[1722, 1427], [1737, 1423]], [[2016, 1503], [2030, 1499]], [[2307, 1579], [2323, 1577]],
  [[2323, 1577], [2344, 1582]], [[2517, 1547], [2535, 1553]], [[2710, 1517], [2725, 1523]], [[2900, 1487], [2918, 1493]], [[3083, 1459], [3100, 1462]],
];
const tickTexts = ["3", "2", "1", "0", "-1", "10", "5", "0", "-1", "-0.5", "0", "0.5", "1"];
const tickSpots = [
  [[59, 199], [59, 293], [60, 387], [59, 480], [50, 578], [50, 608], [348, 694], [637, 779], [722, 783], [932, 750], [1096, 717], [1302, 683], [1473, 650]],
  [[1690, 208], [1690, 298], [1690, 390], [1690, 479], [1682, 572], [1680, 600], [1968, 682], [2247, 765], [2328, 769], [2531, 736], [2689, 705], [2886, 673], [3053, 640]],
  [[77, 1074], [77, 1161], [77, 1247], [77, 1333], [70, 1423], [68, 1448], [340, 1528], [603, 1607], [680, 1610], [869, 1578], [1019, 1550], [1206, 1518], [1362, 1487]],
  [[1698, 1082], [1698, 1165], [1698, 1248], [1698, 1332], [1690, 1417], [1688, 1443], [1990, 1519], [2282, 1595], [2367, 1599], [2578, 1568], [2744, 1539], [2952, 1509], [3129, 1478]],
];
const titles = ["Class 1", "Class 2", "Class 3", "Class 4"];
const titleSpots = [[763, 41], [2369, 57], [719, 931], [2410, 944]];

export default function App() {
  const ref = useRef<HTMLDivElement>(null);
  useEffect(() => {
    document.body.style.margin = "0";
    const chart = echarts.init(ref.current!, undefined, { renderer: "svg" });
    const grid: any[] = [{ left: 0, top: 0, width: W, height: H }];
    const xAxis: any[] = [{ type: "value", gridIndex: 0, min: 0, max: W, show: false }];
    const yAxis: any[] = [{ type: "value", gridIndex: 0, min: 0, max: H, inverse: true, show: false }];
    const series: any[] = [];
    axisLines.forEach((d) => series.push({ type: "line", xAxisIndex: 0, yAxisIndex: 0, data: d, symbol: "none", silent: true, clip: false, lineStyle: { color: "#000", width: 1.5 } }));
    regions.forEach((r, i) => {
      grid.push({ left: r.x, top: r.y, width: r.w, height: r.h });
      xAxis.push({ type: "value", gridIndex: i + 1, min: 0, max: r.uw, show: false });
      yAxis.push({ type: "value", gridIndex: i + 1, min: 0, max: r.uh, inverse: true, show: false });
    });
    order.forEach((c) => regionData.forEach((set, i) => {
      const f = set[c];
      if (!f) return;
      const data: number[][] = [];
      for (let k = 0; k < f.length; k += 2) data.push([f[k], f[k + 1]]);
      series.push({ type: "scatter", name: c, xAxisIndex: i + 1, yAxisIndex: i + 1, data, symbol: "circle", symbolSize: [25, 20], clip: false, silent: true, itemStyle: { color: colors[c], opacity: 1 } });
    }));
    const txt = (t: string, p: number[], size: number, sx: number) => ({ type: "text", x: p[0], y: p[1], scaleX: sx, silent: true, z: 50, style: { text: t, fontSize: size, fontFamily: "Liberation Sans", fill: "#000", align: "center", verticalAlign: "middle" } });
    chart.setOption({
      animation: false,
      backgroundColor: "#fff",
      grid, xAxis, yAxis, series,
      graphic: [
        ...tickSpots.flatMap((spots) => tickTexts.map((t, i) => txt(t, spots[i], 27, 1.3))),
        ...titles.map((t, i) => txt(t, titleSpots[i], 25, 1.55)),
      ],
    });
    return () => chart.dispose();
  }, []);
  return <div ref={ref} style={{ position: "fixed", left: 0, top: 0, width: W, height: H }} />;
}
